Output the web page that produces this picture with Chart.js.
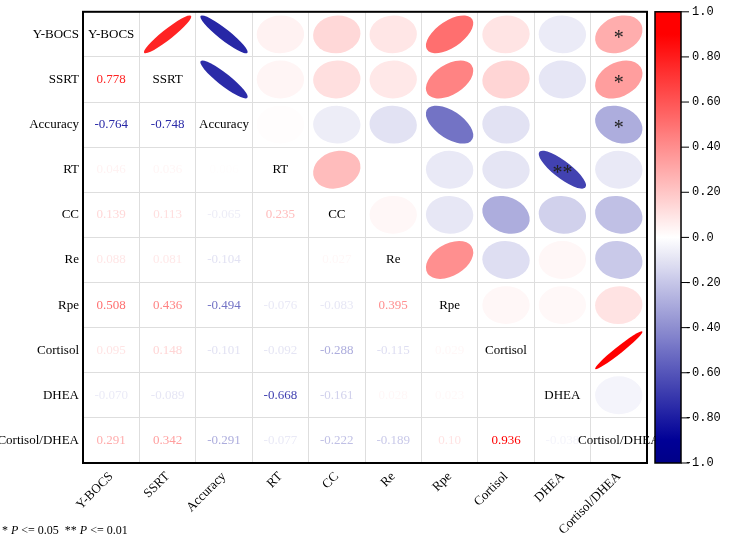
<!DOCTYPE html>
<html>
<head>
<meta charset="utf-8">
<script src="https://cdn.jsdelivr.net/npm/chart.js@4.4.0/dist/chart.umd.min.js"></script>
<style>
  html, body { margin: 0; padding: 0; background: #fff; }
  #wrap { width: 729px; height: 540px; }
</style>
</head>
<body>
<div id="wrap"><canvas id="corrChart"></canvas></div>
<script>
  // variable names (rows top to bottom, columns left to right)
  const vars = ['Y-BOCS', 'SSRT', 'Accuracy', 'RT', 'CC', 'Re', 'Rpe', 'Cortisol', 'DHEA', 'Cortisol/DHEA'];

  // lower triangle of the correlation matrix, row i vs vars 0..i-1 (null = cell left empty)
  const lower = [
    [],
    ['0.778'],
    ['-0.764', '-0.748'],
    ['0.046', '0.036', '0.006'],
    ['0.139', '0.113', '-0.065', '0.235'],
    ['0.088', '0.081', '-0.104', null, '0.027'],
    ['0.508', '0.436', '-0.494', '-0.076', '-0.083', '0.395'],
    ['0.095', '0.148', '-0.101', '-0.092', '-0.288', '-0.115', '0.029'],
    ['-0.070', '-0.089', null, '-0.668', '-0.161', '0.028', '0.023', null],
    ['0.291', '0.342', '-0.291', '-0.077', '-0.222', '-0.189', '0.10', '0.936', '-0.038']
  ];

  // significance marks shown in the upper triangle [row, column, mark]
  const sigMarks = [
    ['Y-BOCS', 'Cortisol/DHEA', '*'],
    ['SSRT', 'Cortisol/DHEA', '*'],
    ['Accuracy', 'Cortisol/DHEA', '*'],
    ['RT', 'DHEA', '**']
  ];

  // colour bar ticks
  const cbTicks = [1.0, 0.8, 0.6, 0.4, 0.2, 0.0, -0.2, -0.4, -0.6, -0.8, -1.0];
  const cbLabels = ['1.0', '0.80', '0.60', '0.40', '0.20', '0.0', '-0.20', '-0.40', '-0.60', '-0.80', '-1.0'];

  const serif = '"Liberation Serif", "Times New Roman", serif';

  // blue - white - red colour map
  function corrColor(r) {
    const t = Math.min(Math.abs(r) / 0.9, 1);
    if (r >= 0) {
      const g = Math.round(255 * (1 - t));
      return `rgb(255,${g},${g})`;
    }
    const rg = Math.round(255 * (1 - t));
    let b = Math.round(255 - 105 * t);
    if (Math.abs(r) > 0.9) b = Math.round(150 - (Math.abs(r) - 0.9) * 150);
    return `rgb(${rg},${rg},${b})`;
  }

  // build the cell list from the lower triangle
  const cells = [];
  for (let i = 0; i < vars.length; i++) {
    for (let j = 0; j < vars.length; j++) {
      if (i === j) {
        cells.push({ x: vars[j], y: vars[i], kind: 'name' });
        continue;
      }
      const txt = i > j ? lower[i][j] : lower[j][i];
      if (txt === null) continue;
      const mark = sigMarks.find(m => m[0] === vars[i] && m[1] === vars[j]);
      cells.push({
        x: vars[j], y: vars[i], r: parseFloat(txt), txt: txt,
        kind: i > j ? 'text' : 'ellipse', mark: mark ? mark[2] : ''
      });
    }
  }

  const corrPlugin = {
    id: 'corrCells',
    afterDatasetsDraw(chart) {
      const { ctx, chartArea: a } = chart;
      const cw = a.width / vars.length;
      const ch = a.height / vars.length;
      const meta = chart.getDatasetMeta(0);
      const data = chart.data.datasets[0].data;
      ctx.save();
      meta.data.forEach((pt, k) => {
        const d = data[k];
        const cx = pt.x, cy = pt.y;
        if (d.kind === 'name') {
          ctx.fillStyle = '#000';
          ctx.font = '13px ' + serif;
          ctx.textAlign = 'center';
          ctx.textBaseline = 'middle';
          ctx.fillText(d.x, cx, cy);
        } else if (d.kind === 'text') {
          ctx.fillStyle = corrColor(d.r);
          ctx.font = '13px ' + serif;
          ctx.textAlign = 'center';
          ctx.textBaseline = 'middle';
          ctx.fillText(d.txt, cx, cy);
        } else {
          // ellipse along the diagonal, thinner as |r| grows
          const k0 = 0.42;
          const B = Math.max(k0 * Math.pow(1 - d.r * d.r, 1.5), 0.07);
          const A = Math.sqrt(2 * k0 * k0 - B * B);
          ctx.save();
          ctx.translate(cx, cy);
          ctx.scale(cw, ch);
          ctx.rotate(d.r >= 0 ? -Math.PI / 4 : Math.PI / 4);
          ctx.beginPath();
          ctx.ellipse(0, 0, A, B, 0, 0, Math.PI * 2);
          ctx.restore();
          ctx.fillStyle = corrColor(d.r);
          ctx.fill();
          if (d.mark) {
            ctx.fillStyle = '#222';
            ctx.font = '20px ' + serif;
            ctx.textAlign = 'center';
            ctx.textBaseline = 'middle';
            ctx.fillText(d.mark, cx, cy + 4);
          }
        }
      });
      // frame around the matrix
      ctx.strokeStyle = '#000';
      ctx.lineWidth = 2;
      ctx.strokeRect(a.left, a.top, a.width, a.height);
      ctx.restore();
    },
    afterDraw(chart) {
      const { ctx, chartArea: a } = chart;
      const cb = chart.scales.cb;
      const x0 = a.right + 8, w = 26;
      const yTop = cb.getPixelForValue(1), yBot = cb.getPixelForValue(-1);
      ctx.save();
      const grad = ctx.createLinearGradient(0, yTop, 0, yBot);
      for (let s = 0; s <= 40; s++) {
        const v = 1 - s / 20;
        grad.addColorStop(Math.min(1, Math.max(0, s / 40)), corrColor(v));
      }
      ctx.fillStyle = grad;
      ctx.fillRect(x0, yTop, w, yBot - yTop);
      ctx.strokeStyle = '#000';
      ctx.lineWidth = 1.5;
      ctx.strokeRect(x0, yTop, w, yBot - yTop);
      // ticks and labels
      ctx.lineWidth = 1;
      ctx.font = '12px "Liberation Mono", monospace';
      ctx.fillStyle = '#000';
      ctx.textBaseline = 'middle';
      ctx.textAlign = 'left';
      const dash = ctx.measureText('-').width;
      cbTicks.forEach((v, i) => {
        const y = cb.getPixelForValue(v);
        ctx.beginPath();
        ctx.moveTo(x0 + w, y);
        ctx.lineTo(x0 + w + 8, y);
        ctx.stroke();
        const lbl = cbLabels[i];
        ctx.fillText(lbl, x0 + w + 11 - (lbl[0] === '-' ? dash : 0), y);
      });
      // footnote
      ctx.textBaseline = 'alphabetic';
      let x = 2;
      const y = 534;
      const parts = [['* ', false], ['P', true], [' <= 0.05  ** ', false], ['P', true], [' <= 0.01', false]];
      parts.forEach(p => {
        ctx.font = (p[1] ? 'italic ' : '') + '12px ' + serif;
        ctx.fillText(p[0], x, y);
        x += ctx.measureText(p[0]).width;
      });
      ctx.restore();
    }
  };

  new Chart(document.getElementById('corrChart'), {
    type: 'scatter',
    data: {
      datasets: [{
        data: cells,
        pointRadius: 0,
        pointHoverRadius: 0
      }]
    },
    options: {
      responsive: true,
      maintainAspectRatio: false,
      animation: false,
      layout: { padding: { top: 9, left: 0, right: 0, bottom: 0 } },
      plugins: { legend: { display: false }, tooltip: { enabled: false } },
      scales: {
        x: {
          type: 'category',
          labels: vars,
          offset: true,
          grid: { offset: true, color: '#dedede', drawTicks: false },
          border: { display: false },
          ticks: {
            autoSkip: false, minRotation: 45, maxRotation: 45, padding: 6,
            color: '#000', font: { family: serif, size: 13 }
          },
          afterFit: s => { s.height = 77; }
        },
        y: {
          type: 'category',
          labels: vars,
          offset: true,
          grid: { offset: true, color: '#dedede', drawTicks: false },
          border: { display: false },
          ticks: { autoSkip: false, padding: 4, color: '#000', font: { family: serif, size: 13 } },
          afterFit: s => { s.width = 83; }
        },
        cb: {
          type: 'linear',
          position: 'right',
          min: -1,
          max: 1,
          grid: { display: false },
          border: { display: false },
          ticks: { display: false },
          afterFit: s => { s.width = 82; }
        }
      }
    },
    plugins: [corrPlugin]
  });
</script>
</body>
</html>
